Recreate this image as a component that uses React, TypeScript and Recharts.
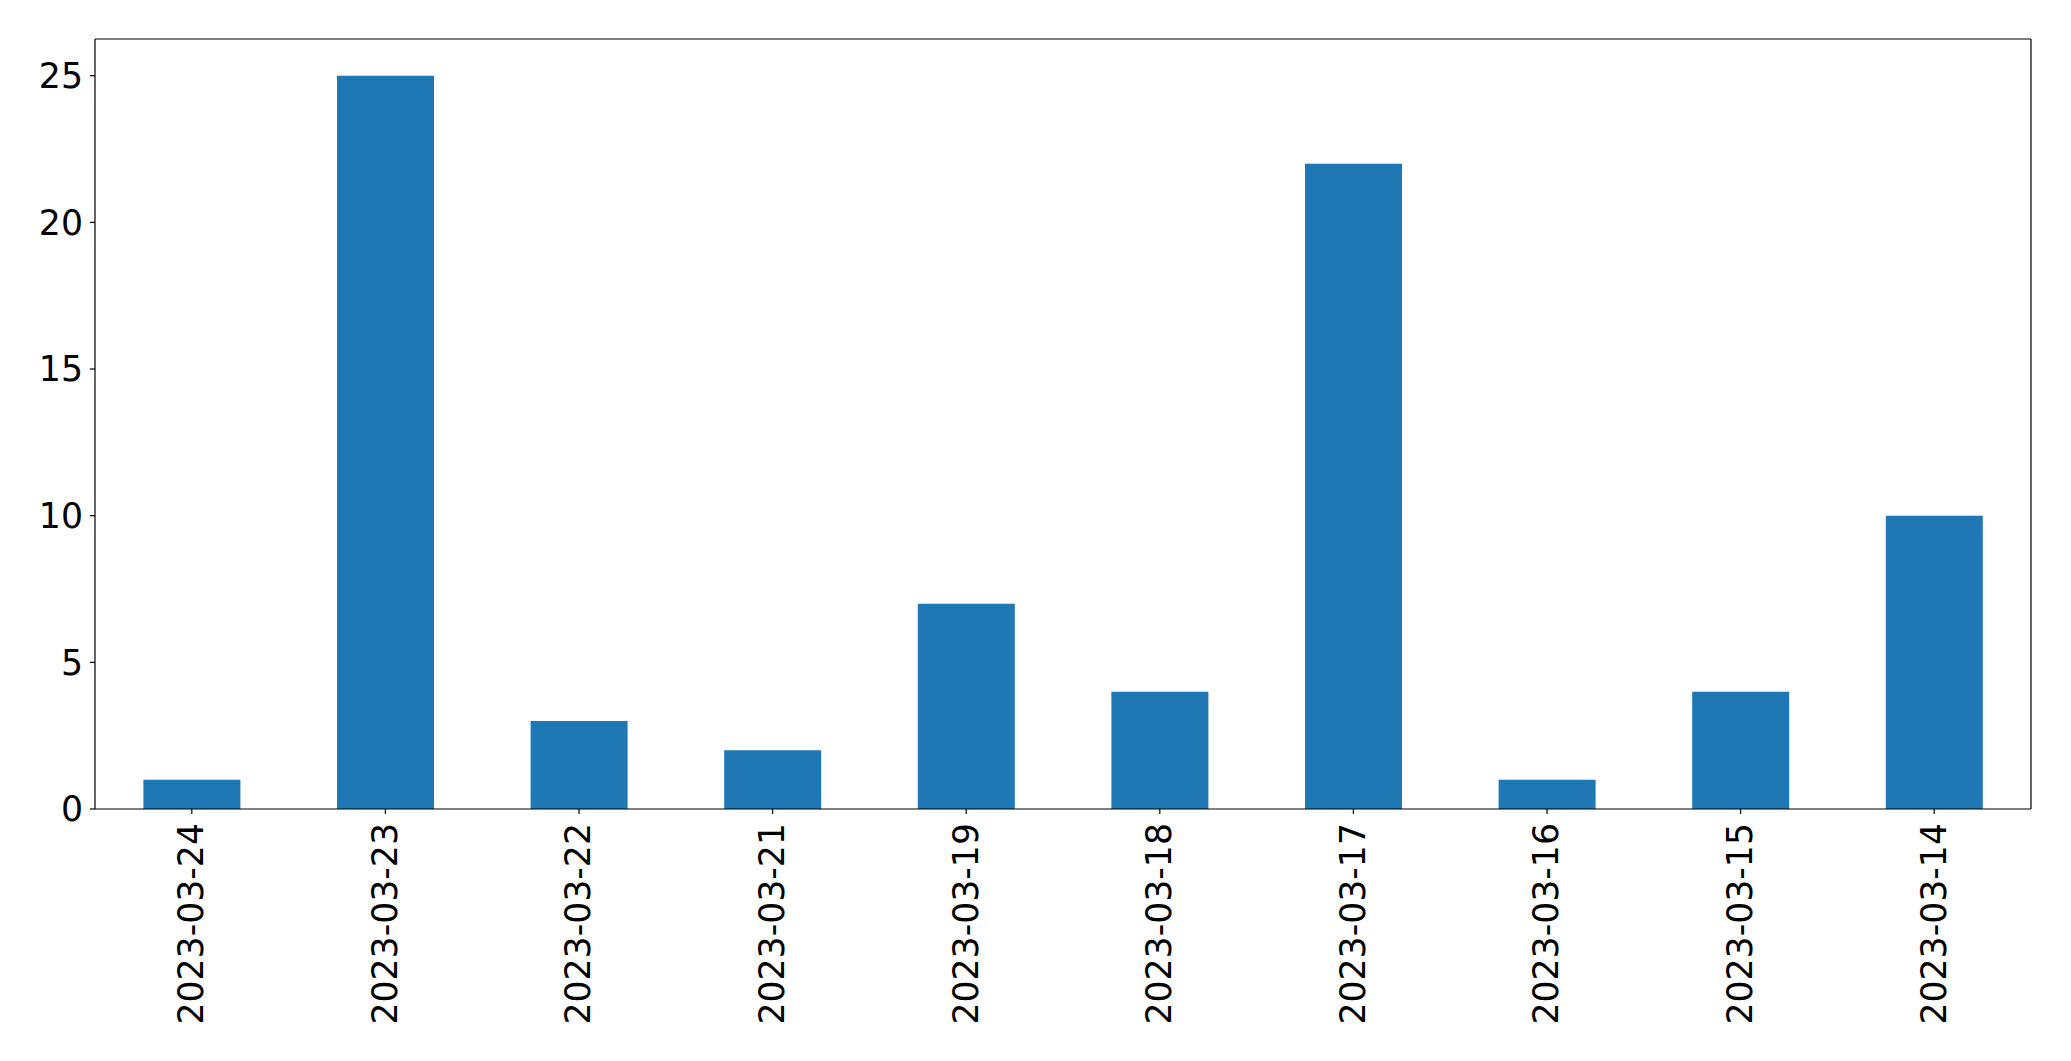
import { BarChart, Bar, XAxis, YAxis, CartesianGrid } from 'recharts'

// fechas en el orden del gráfico original
const dates = [
  '2023-03-24', '2023-03-23', '2023-03-22', '2023-03-21', '2023-03-19',
  '2023-03-18', '2023-03-17', '2023-03-16', '2023-03-15', '2023-03-14',
]
const counts = [1, 25, 3, 2, 7, 4, 22, 1, 4, 10]
const yTicks = [0, 5, 10, 15, 20, 25]

const chartData = dates.map((date, i) => ({ date, count: counts[i] }))

const FONT = 'DejaVu Sans'
const FONT_SIZE = 34.7

// etiqueta del eje X girada 90°
function DateTick(props: any) {
  const { x, y, payload } = props
  return (
    <g transform={`translate(${x},${y}) rotate(-90)`}>
      <text
        x={0}
        y={0}
        dy="0.33em"
        textAnchor="end"
        fontFamily={FONT}
        fontSize={FONT_SIZE}
        fill="#000"
      >
        {payload.value}
      </text>
    </g>
  )
}

export default function App() {
  return (
    <div style={{ position: 'absolute', left: 0, top: 0, width: 2071, height: 1061, background: '#fff' }}>
      <BarChart
        width={2071}
        height={1061}
        data={chartData}
        margin={{ top: 39, right: 40, bottom: 0, left: 0 }}
        barCategoryGap="25%"
      >
        {/* marco superior y derecho */}
        <CartesianGrid
          stroke="#000"
          strokeWidth={1.2}
          horizontalCoordinatesGenerator={({ offset }: any) => [offset.top]}
          verticalCoordinatesGenerator={({ offset }: any) => [offset.left + offset.width]}
        />
        <XAxis
          dataKey="date"
          height={252}
          interval={0}
          tickSize={5}
          tickMargin={9}
          tick={<DateTick />}
          stroke="#000"
          axisLine={{ stroke: '#000', strokeWidth: 1.2 }}
          tickLine={{ stroke: '#000', strokeWidth: 1.2 }}
        />
        <YAxis
          width={95}
          domain={[0, 26.25]}
          ticks={yTicks}
          allowDataOverflow
          tickSize={5}
          tickMargin={7}
          stroke="#000"
          tick={{ fontFamily: FONT, fontSize: FONT_SIZE, fill: '#000' }}
          axisLine={{ stroke: '#000', strokeWidth: 1.2 }}
          tickLine={{ stroke: '#000', strokeWidth: 1.2 }}
        />
        <Bar dataKey="count" fill="#1f77b4" isAnimationActive={false} />
      </BarChart>
    </div>
  )
}
